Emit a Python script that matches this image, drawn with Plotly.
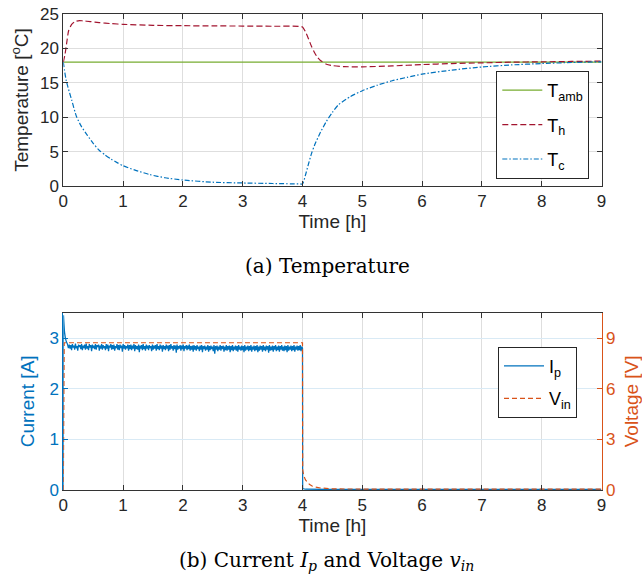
import plotly.graph_objects as go

# ---------------- Temperature data ----------------
time_amb = [0.0, 9.0]
T_amb = [18.0, 18.0]

time_h = [0.0, 0.03, 0.06, 0.09, 0.14, 0.2, 0.27, 0.33, 0.45, 0.6, 0.8, 1.0, 1.5, 2.0, 2.5, 3.0,
          3.5, 3.95, 4.0, 4.05, 4.1, 4.15, 4.2, 4.25, 4.3, 4.4, 4.5, 4.7, 5.0, 5.5, 6.0, 6.5,
          7.0, 7.5, 8.0, 8.5, 9.0]
T_h = [18.0, 19.2, 21.0, 22.6, 23.5, 23.9, 24.05, 24.0, 23.9, 23.75, 23.6, 23.5, 23.35, 23.3,
       23.27, 23.25, 23.22, 23.2, 23.1, 22.4, 21.4, 20.3, 19.4, 18.7, 18.25, 17.7, 17.5, 17.35,
       17.32, 17.45, 17.65, 17.8, 17.9, 18.0, 18.05, 18.1, 18.15]

time_c = [0.0, 0.02, 0.05, 0.08, 0.14, 0.22, 0.3, 0.4, 0.5, 0.6, 0.7, 0.8, 0.9, 1.0, 1.2, 1.45,
          1.7, 2.0, 2.5, 3.0, 3.5, 3.95, 4.0, 4.05, 4.1, 4.15, 4.2, 4.3, 4.4, 4.5, 4.6, 4.8, 5.0,
          5.25, 5.5, 5.75, 6.0, 6.5, 7.0, 7.5, 8.0, 8.5, 9.0]
T_c = [18.0, 16.8, 15.3, 14.3, 12.5, 10.1, 8.7, 7.4, 6.2, 5.2, 4.5, 3.9, 3.4, 2.95, 2.3, 1.65,
       1.2, 0.87, 0.55, 0.44, 0.36, 0.3, 0.3, 1.6, 3.2, 4.7, 5.9, 7.8, 9.4, 10.7, 11.8, 13.0, 13.85,
       14.65, 15.3, 15.8, 16.25, 16.85, 17.3, 17.6, 17.8, 17.95, 18.05]

# ---------------- Current / voltage data ----------------
time_I_start = [0.0, 0.003, 0.01, 0.02, 0.035, 0.05, 0.07, 0.085]
I_start = [0.0, 3.45, 3.3, 3.12, 3.0, 2.93, 2.88, 2.8]

# plateau samples, evenly spaced from 0.1 h to 4.0 h
I_plateau = [
    2.87, 2.79, 2.86, 2.76, 2.88, 2.81, 2.85, 2.77, 2.89, 2.80, 2.84, 2.75, 2.87, 2.82, 2.86, 2.78,
    2.88, 2.76, 2.85, 2.80, 2.87, 2.77, 2.89, 2.79, 2.84, 2.76, 2.88, 2.81, 2.86, 2.74, 2.87, 2.80,
    2.85, 2.78, 2.88, 2.77, 2.86, 2.82, 2.87, 2.75, 2.85, 2.79, 2.88, 2.77, 2.86, 2.80, 2.84, 2.76,
    2.88, 2.79, 2.87, 2.74, 2.85, 2.81, 2.88, 2.77, 2.86, 2.78, 2.87, 2.75, 2.84, 2.80, 2.88, 2.77,
    2.86, 2.76, 2.87, 2.80, 2.85, 2.73, 2.88, 2.79, 2.86, 2.77, 2.84, 2.80, 2.87, 2.75, 2.86, 2.78,
    2.87, 2.76, 2.85, 2.79, 2.88, 2.74, 2.86, 2.78, 2.84, 2.77, 2.87, 2.72, 2.85, 2.79, 2.86, 2.76,
    2.88, 2.78, 2.84, 2.75, 2.87, 2.79, 2.85, 2.76, 2.86, 2.80, 2.84, 2.74, 2.87, 2.77, 2.85, 2.79,
    2.86, 2.75, 2.88, 2.78, 2.84, 2.76, 2.87, 2.79, 2.85, 2.73, 2.86, 2.78, 2.84, 2.76, 2.87, 2.79,
    2.85, 2.74, 2.86, 2.77, 2.88, 2.79, 2.84, 2.75, 2.86, 2.78, 2.85, 2.71, 2.87, 2.77, 2.84, 2.79,
    2.86, 2.75, 2.85, 2.78, 2.87, 2.74, 2.84, 2.79, 2.86, 2.76, 2.85, 2.78, 2.87, 2.75, 2.84, 2.77,
    2.85, 2.73, 2.86, 2.77, 2.84, 2.75, 2.86, 2.78, 2.83, 2.74, 2.85, 2.77, 2.86, 2.72, 2.84, 2.78,
    2.85, 2.75, 2.83, 2.77, 2.86, 2.73, 2.84, 2.76, 2.85, 2.78, 2.83, 2.74, 2.86, 2.69, 2.84, 2.77,
    2.85, 2.74, 2.83, 2.77, 2.86, 2.75, 2.84, 2.78, 2.85, 2.73, 2.83, 2.76, 2.86, 2.75, 2.84, 2.77,
    2.85, 2.72, 2.84, 2.76, 2.86, 2.74, 2.83, 2.77, 2.85, 2.75, 2.84, 2.73, 2.86, 2.77, 2.83, 2.75,
    2.85, 2.76, 2.84, 2.72, 2.86, 2.75, 2.83, 2.77, 2.85, 2.74, 2.84, 2.76, 2.86, 2.73, 2.83, 2.77,
    2.85, 2.74, 2.84, 2.76, 2.86, 2.72, 2.83, 2.75, 2.85, 2.77, 2.84, 2.73, 2.86, 2.76, 2.83, 2.74,
    2.85, 2.77, 2.84, 2.71, 2.86, 2.75, 2.83, 2.76, 2.85, 2.73, 2.84, 2.77, 2.86, 2.74, 2.83, 2.76,
    2.85, 2.73, 2.84, 2.77, 2.86, 2.75, 2.83, 2.74, 2.85, 2.76, 2.84, 2.72, 2.86, 2.75, 2.83, 2.77,
    2.85, 2.74, 2.84, 2.76, 2.86, 2.73, 2.83, 2.77, 2.85, 2.75, 2.84, 2.76, 2.86, 2.74, 2.83, 2.80,
]
n_pl = len(I_plateau)
time_plateau = [0.1 + 3.9 * i / (n_pl - 1) for i in range(n_pl)]

time_I_end = [4.003, 4.05, 4.5, 5.0, 6.0, 7.0, 8.0, 9.0]
I_end = [0.03, 0.015, 0.01, 0.01, 0.01, 0.01, 0.01, 0.01]

time_I = time_I_start + time_plateau + time_I_end
I_p = I_start + I_plateau + I_end

time_V = [0.0, 0.015, 1.0, 2.0, 3.0, 4.0, 4.003, 4.02, 4.05, 4.08, 4.12, 4.16, 4.2, 4.3, 4.4,
          4.5, 4.7, 5.0, 6.0, 7.0, 8.0, 9.0]
V_in = [0.0, 8.72, 8.72, 8.72, 8.72, 8.72, 1.2, 0.85, 0.6, 0.45, 0.32, 0.24, 0.19, 0.12, 0.09,
        0.07, 0.06, 0.05, 0.05, 0.05, 0.05, 0.05]

# ---------------- styling ----------------
BLUE = "#0072BD"
ORANGE = "#D95319"
GREEN = "#77AC30"
RED = "#A2142F"
AX = "#333333"
GRID = "#dedede"
GRID_BLUE = "#d9eaf5"
FONT = "Liberation Sans, Arial, sans-serif"
TICKF = 17
TITLEF = 19

fig = go.Figure()

fig.add_trace(go.Scatter(x=time_amb, y=T_amb, mode="lines", name="T<sub>amb</sub>", legendgroup="a",
                         line=dict(color=GREEN, width=1.2), xaxis="x", yaxis="y", legend="legend"))
fig.add_trace(go.Scatter(x=time_h, y=T_h, mode="lines", name="T<sub>h</sub>", legendgroup="b",
                         line=dict(color=RED, width=1.2, dash="6px,3px", shape="spline", smoothing=0.6),
                         xaxis="x", yaxis="y", legend="legend"))
fig.add_trace(go.Scatter(x=time_c, y=T_c, mode="lines", name="T<sub>c</sub>", legendgroup="c",
                         line=dict(color=BLUE, width=1.2, dash="5px,2px,1.5px,2px", shape="spline", smoothing=0.6),
                         xaxis="x", yaxis="y", legend="legend"))

fig.add_trace(go.Scatter(x=time_I, y=I_p, mode="lines", name="I<sub>p</sub>", legendgroup="d",
                         line=dict(color=BLUE, width=1.25, simplify=False),
                         xaxis="x2", yaxis="y2", legend="legend2"))
fig.add_trace(go.Scatter(x=time_V, y=V_in, mode="lines", name="V<sub>in</sub>", legendgroup="e",
                         line=dict(color=ORANGE, width=1.2, dash="5px,3px"),
                         xaxis="x2", yaxis="y3", legend="legend2"))

xdom = [63.3 / 642, 601.5 / 642]
common_x = dict(range=[0, 9], dtick=1, ticks="inside", ticklen=5, tickcolor=AX,
                showline=True, linecolor=AX, linewidth=1, mirror="ticks",
                showgrid=True, gridcolor=GRID, gridwidth=1, zeroline=False,
                tickfont=dict(size=TICKF, color="#262626", family=FONT),
                title=dict(text="Time [h]", font=dict(size=TITLEF, color="#262626", family=FONT), standoff=0),
                domain=xdom, automargin=False)

fig.update_layout(
    width=642, height=580,
    margin=dict(l=0, r=0, t=0, b=0),
    plot_bgcolor="white", paper_bgcolor="white",
    font=dict(family=FONT, color="#262626"),
    xaxis=dict(anchor="y", **common_x),
    yaxis=dict(domain=[1 - 186 / 580, 1 - 14 / 580], anchor="x", range=[0, 25], dtick=5,
               ticks="inside", ticklen=5, tickcolor=AX, showline=True, linecolor=AX, linewidth=1,
               mirror="ticks", showgrid=True, gridcolor=GRID, zeroline=False, automargin=False,
               tickfont=dict(size=TICKF, color="#262626", family=FONT),
               title=dict(text="Temperature [<sup>o</sup>C]", font=dict(size=TITLEF, color="#262626", family=FONT),
                          standoff=6)),
    xaxis2=dict(anchor="y2", **common_x),
    yaxis2=dict(domain=[1 - 490 / 580, 1 - 312.7 / 580], anchor="x2", range=[0, 3.5], dtick=1,
                ticks="inside", ticklen=5, tickcolor=BLUE, showline=True, linecolor=BLUE, linewidth=1,
                showgrid=True, gridcolor=GRID_BLUE, zeroline=False, automargin=False,
                tickfont=dict(size=TICKF, color=BLUE, family=FONT),
                title=dict(text="Current [A]", font=dict(size=TITLEF, color=BLUE, family=FONT), standoff=9)),
    yaxis3=dict(overlaying="y2", side="right", anchor="x2", range=[0, 10.5], dtick=3,
                ticks="inside", ticklen=5, tickcolor=ORANGE, showline=True, linecolor=ORANGE, linewidth=1,
                showgrid=False, zeroline=False, automargin=False,
                tickfont=dict(size=TICKF, color=ORANGE, family=FONT),
                title=dict(text="Voltage [V]", font=dict(size=TITLEF, color=ORANGE, family=FONT), standoff=14)),
    legend=dict(x=589.3 / 642, xanchor="right", y=1 - 71 / 580, yanchor="top",
                bgcolor="white", bordercolor="#262626", borderwidth=1,
                font=dict(size=18, family=FONT, color="#000000"), itemwidth=40, tracegroupgap=8),
    legend2=dict(x=577 / 642, xanchor="right", y=1 - 346.7 / 580, yanchor="top",
                 bgcolor="white", bordercolor="#262626", borderwidth=1,
                 font=dict(size=18, family=FONT, color="#000000"), itemwidth=40, tracegroupgap=6),
    showlegend=True,
)

fig.add_annotation(text="(a) Temperature", xref="paper", yref="paper", x=327.5 / 642, y=1 - 266 / 580,
                   xanchor="center", yanchor="middle", showarrow=False,
                   font=dict(family="DejaVu Serif, serif", size=20, color="#000000"))
fig.add_annotation(text="(b) Current <i>I<sub>p</sub></i> and Voltage <i>v<sub>in</sub></i>",
                   xref="paper", yref="paper", x=326.5 / 642, y=1 - 561 / 580,
                   xanchor="center", yanchor="middle", showarrow=False,
                   font=dict(family="DejaVu Serif, serif", size=20, color="#000000"))

fig.write_html("out.html",
               config={"displayModeBar": False},
               post_script="document.body.style.margin='0';document.body.style.padding='0';"
                           "document.body.style.overflow='hidden';")
